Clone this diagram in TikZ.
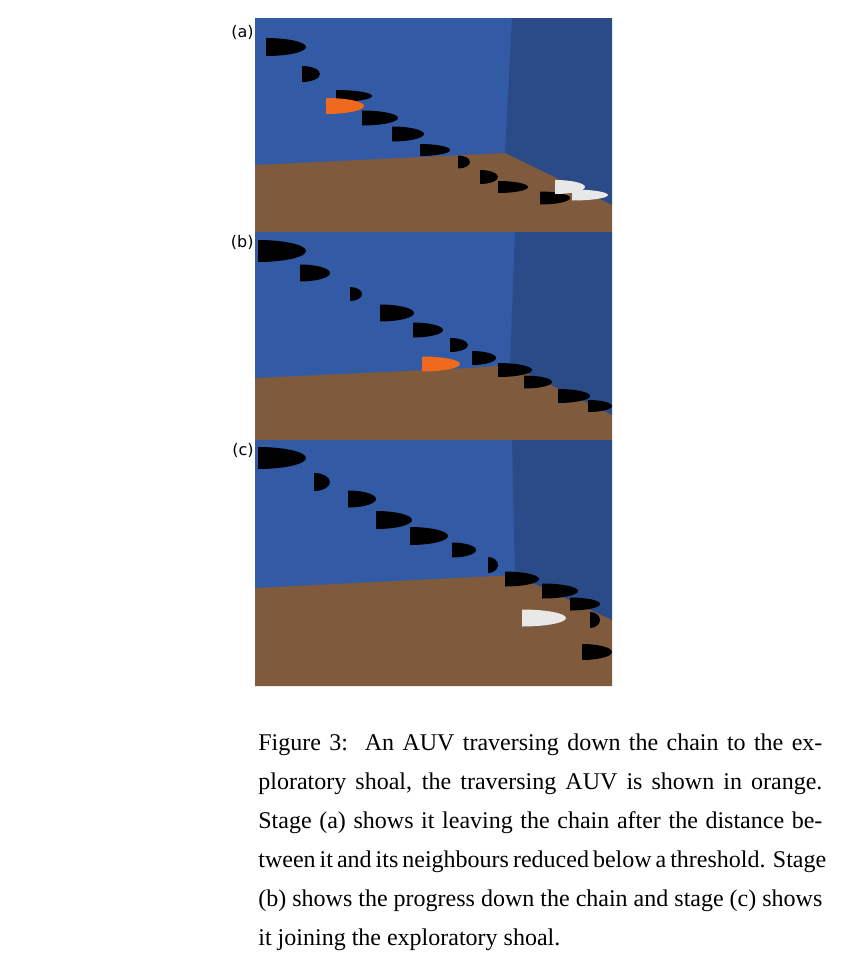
\documentclass[tikz,border=0pt]{standalone}
\usepackage{fontspec}
\setmainfont{Liberation Serif}
\setsansfont{DejaVu Sans}
\definecolor{seablue}{RGB}{50,90,165}
\definecolor{wallblue}{RGB}{42,75,136}
\definecolor{seabed}{RGB}{127,90,60}
\definecolor{auvorange}{RGB}{240,106,30}
\definecolor{auvwhite}{RGB}{232,232,232}
% bullet shaped vehicle: x, y, length, height, colour
\newcommand{\auv}[5]{%
  \fill[#5] (#1,#2) ++(0,-#4/2) -- ++(0,#4)
    arc[start angle=-90, end angle=90, x radius=#3, y radius=-#4/2] -- cycle;}
\begin{document}
\begin{tikzpicture}[x=0.5pt, y=-0.5pt,
  panel label/.style={font=\sffamily\fontsize{8}{9}\selectfont, anchor=east, inner sep=1pt}]
\useasboundingbox (0,0) rectangle (848,980);

% (a)
\fill[seablue] (255,18) rectangle (612,232);
\fill[wallblue] (512,18) -- (612,18) -- (612,205) -- (505,155) -- cycle;
\fill[seabed] (255,165) -- (505,153) -- (612,205) -- (612,232) -- (255,232) -- cycle;
\node[panel label] (la) at (256,32) {(a)};
\auv{266}{47}{40}{18}{black}
\auv{302}{74}{18}{16}{black}
\auv{336}{96}{36}{12}{black}
\auv{326}{106}{38}{16}{auvorange}
\auv{362}{118}{36}{15}{black}
\auv{392}{134}{32}{15}{black}
\auv{420}{150}{30}{12}{black}
\auv{458}{162}{12}{13}{black}
\auv{480}{177}{18}{14}{black}
\auv{498}{187}{30}{12}{black}
\auv{540}{198}{30}{13}{black}
\auv{555}{187}{30}{14}{auvwhite}
\auv{572}{195}{36}{11}{auvwhite}

% (b)
\fill[seablue] (255,232) rectangle (612,440);
\fill[wallblue] (515,232) -- (612,232) -- (612,415) -- (510,365) -- cycle;
\fill[seabed] (255,378) -- (470,368) -- (510,365) -- (612,415) -- (612,440) -- (255,440) -- cycle;
\node[panel label] (lb) at (256,242) {(b)};
\auv{258}{251}{48}{22}{black}
\auv{300}{273}{30}{17}{black}
\auv{350}{294}{12}{14}{black}
\auv{380}{313}{34}{17}{black}
\auv{413}{330}{30}{15}{black}
\auv{450}{345}{18}{14}{black}
\auv{472}{358}{24}{14}{black}
\auv{422}{364}{38}{15}{auvorange}
\auv{498}{370}{34}{14}{black}
\auv{524}{382}{28}{13}{black}
\auv{558}{396}{32}{14}{black}
\auv{588}{406}{24}{12}{black}

% (c)
\fill[seablue] (255,440) rectangle (612,686);
\fill[wallblue] (512,440) -- (612,440) -- (612,620) -- (515,575) -- cycle;
\fill[seabed] (255,588) -- (515,575) -- (612,620) -- (612,686) -- (255,686) -- cycle;
\node[panel label] (lc) at (256,450) {(c)};
\auv{258}{458}{48}{22}{black}
\auv{314}{482}{16}{18}{black}
\auv{348}{499}{28}{17}{black}
\auv{376}{520}{36}{18}{black}
\auv{410}{536}{38}{18}{black}
\auv{452}{550}{24}{15}{black}
\auv{488}{565}{10}{16}{black}
\auv{505}{579}{34}{15}{black}
\auv{542}{591}{36}{15}{black}
\auv{570}{604}{30}{13}{black}
\auv{590}{620}{10}{16}{black}
\auv{522}{618}{44}{17}{auvwhite}
\auv{582}{652}{30}{16}{black}

% caption
\node[anchor=north west, inner sep=0pt, align=left,
  font=\fontsize{12}{19.5}\selectfont] (caption) at (258,733) {%
\makebox[282pt][s]{Figure 3:\ \ An AUV traversing down the chain to the ex-}\\
\makebox[282pt][s]{ploratory shoal, the traversing AUV is shown in orange.}\\
\makebox[282pt][s]{Stage (a) shows it leaving the chain after the distance be-}\\
\makebox[282pt][s]{tween it and its neighbours reduced below a threshold. Stage}\\
\makebox[282pt][s]{(b) shows the progress down the chain and stage (c) shows}\\
it joining the exploratory shoal.};
\end{tikzpicture}
\end{document}
